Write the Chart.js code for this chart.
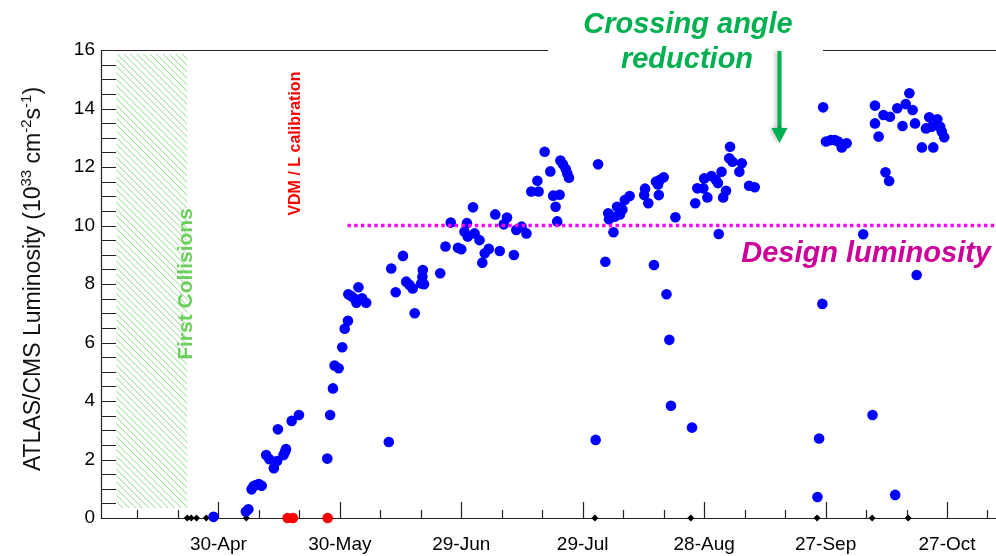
<!DOCTYPE html>
<html>
<head>
<meta charset="utf-8">
<script src="https://cdn.jsdelivr.net/npm/chart.js@4/dist/chart.umd.min.js"></script>
<style>
  html, body { margin: 0; padding: 0; background: #fff; overflow: hidden; }
  #wrap { width: 996px; height: 556px; position: relative; }
</style>
</head>
<body>
<div id="wrap"><canvas id="lumi" width="996" height="556"></canvas></div>
<script>
// Peak luminosity of each 2016 fill: day of year and value in 1e33 cm^-2 s^-1
const fillDay = [
  119.8,127.8,128.4,129.2,129.7,130.3,131.0,131.7,132.8,133.6,
  134.7,135.5,135.7,137.1,137.5,137.7,139.1,140.9,147.9,148.6,
  149.3,149.7,150.7,151.6,152.2,153.0,153.1,153.8,154.5,155.1,
  155.6,156.5,157.5,163.1,163.7,164.8,166.6,167.4,168.2,169.0,
  169.5,171.1,171.4,171.5,171.8,175.8,177.1,178.4,180.2,181.0,
  181.8,182.4,182.6,183.9,184.3,185.5,186.2,186.8,187.8,189.4,
  190.5,191.5,192.3,194.0,194.6,195.9,197.1,198.3,199.8,200.1,
  201.6,203.0,203.7,204.3,204.7,205.3,205.5,206.1,206.8,207.2,
  207.6,214.2,214.8,216.6,217.3,217.5,218.6,218.9,219.5,220.2,
  220.8,221.4,222.6,226.2,226.4,227.2,228.6,229.1,229.6,230.1,
  231.0,229.8,231.7,232.4,232.8,233.9,238.0,238.8,239.3,240.8,
  241.0,241.8,242.8,243.9,244.4,244.6,245.3,245.7,246.4,247.2,
  247.4,248.0,249.7,250.3,252.1,253.5,269.0,269.4,270.2,270.4,
  271.1,272.3,273.3,274.1,275.0,276.2,280.3,282.6,283.2,283.2,
  284.1,285.3,285.8,286.7,286.9,288.2,288.7,290.0,290.8,291.7,
  292.5,293.1,293.5,294.8,295.8,296.6,297.2,297.6,298.6,299.3,
  299.7,300.3
];
const fillPeak = [
  0.04,0.22,0.30,0.98,1.09,1.13,1.16,1.10,2.15,2.01,
  1.70,1.95,3.03,2.15,2.27,2.36,3.32,3.52,2.03,3.52,
  4.43,5.21,5.12,5.84,6.47,6.74,7.65,7.59,7.51,7.36,
  7.89,7.51,7.36,2.60,8.53,7.72,8.96,8.08,7.97,7.85,
  7.00,8.02,8.25,8.48,7.99,8.37,9.28,10.10,9.24,9.19,
  9.79,10.08,9.62,10.62,9.73,9.50,8.73,9.05,9.20,10.38,
  9.13,10.04,10.27,8.99,9.85,9.96,9.73,11.16,11.53,11.16,
  12.52,11.85,11.02,10.64,10.14,11.05,12.22,12.09,11.93,11.78,
  11.63,2.67,12.09,8.76,10.42,10.21,9.77,10.30,10.64,10.38,
  10.55,10.87,11.01,11.04,11.26,10.76,8.65,11.50,11.40,11.56,
  11.65,11.04,7.65,6.09,3.84,10.28,3.09,10.76,11.27,11.27,
  11.61,10.96,11.69,11.56,11.45,9.71,11.84,10.96,11.19,12.30,
  12.69,12.18,11.84,12.13,11.36,11.31,0.72,2.72,7.32,14.04,
  12.87,12.92,12.92,12.87,12.67,12.81,9.70,3.52,14.10,13.49,
  13.04,13.78,11.82,11.52,13.72,0.79,14.01,13.40,14.15,14.52,
  13.95,13.49,8.31,12.67,13.32,13.70,13.38,12.67,13.63,13.38,
  13.21,13.02
];
// Fills without stable-beam luminosity (drawn on the axis)
const zeroFillDay = [113.3,114.3,115.6,118.0,127.9,214.0,237.7,268.9,282.5,291.4];
// van der Meer calibration fills
const vdmFillDay = [138.1,139.4,148.0];

// Axis ticks (day of year 2016)
const dateTickDay = [121,151,181,211,241,271,301];
const dateTickLabel = ['30-Apr','30-May','29-Jun','29-Jul','28-Aug','27-Sep','27-Oct'];
const lumiTicks = [0,2,4,6,8,10,12,14,16];

const designLumi = 10;          // design luminosity level
const designFromDay = 152.9;    // where the design line starts
const firstCollisionSpan = [95.8, 113.3];  // hatched commissioning period

const X_MIN = 92, X_MAX = 313.1, Y_MIN = 0, Y_MAX = 16;
const FONT = '"Liberation Sans", Arial, Helvetica, sans-serif';

function hatch(ctx, x0, y0, x1, y1, step, color) {
  ctx.save();
  ctx.beginPath();
  ctx.rect(x0, y0, x1 - x0, y1 - y0);
  ctx.clip();
  ctx.strokeStyle = color;
  ctx.lineWidth = 0.9;
  const h = y1 - y0;
  ctx.beginPath();
  for (let t = x0 - h; t < x1 + step; t += step) {
    ctx.moveTo(t, y0);
    ctx.lineTo(t + h, y1);
  }
  ctx.stroke();
  ctx.restore();
}

const decorations = {
  id: 'decorations',
  beforeDatasetsDraw(chart) {
    const { ctx, chartArea: a, scales: { x, y } } = chart;
    ctx.save();

    // commissioning period hatch
    hatch(ctx, x.getPixelForValue(firstCollisionSpan[0]), y.getPixelForValue(15.86),
          x.getPixelForValue(firstCollisionSpan[1]), y.getPixelForValue(0.34), 6.5, '#7ad67a');

    // frame: left, bottom, top (top broken under the annotation box)
    ctx.strokeStyle = '#222';
    ctx.lineWidth = 1.2;
    ctx.beginPath();
    ctx.moveTo(a.left + 0.5, a.top);
    ctx.lineTo(a.left + 0.5, a.bottom + 0.5);
    ctx.lineTo(a.right, a.bottom + 0.5);
    ctx.moveTo(a.left, a.top + 0.5);
    ctx.lineTo(548, a.top + 0.5);
    ctx.moveTo(823, a.top + 0.5);
    ctx.lineTo(a.right, a.top + 0.5);
    ctx.stroke();

    // x ticks: major every 30 days, minor every 10 days, drawn inward
    ctx.beginPath();
    for (let d = dateTickDay[0] - 30; d <= X_MAX; d += 10) {
      if (d < X_MIN) continue;
      const px = Math.round(x.getPixelForValue(d)) + 0.5;
      const major = dateTickDay.includes(d);
      ctx.moveTo(px, a.bottom);
      ctx.lineTo(px, a.bottom - (major ? 16 : 8));
    }
    // y ticks every 0.5
    for (let v = Y_MIN; v <= Y_MAX + 1e-6; v += 0.5) {
      const py = Math.round(y.getPixelForValue(v)) + 0.5;
      ctx.moveTo(a.left, py);
      ctx.lineTo(a.left + 15, py);
    }
    ctx.stroke();

    // vertical labels
    ctx.textAlign = 'center';
    ctx.textBaseline = 'middle';
    ctx.save();
    ctx.translate(x.getPixelForValue(113.0), y.getPixelForValue(8.0));
    ctx.rotate(-Math.PI / 2);
    ctx.fillStyle = '#6ccf5c';
    ctx.font = 'bold 21px ' + FONT;
    ctx.fillText('First Collisions', 0, 0);
    ctx.restore();

    ctx.save();
    ctx.translate(x.getPixelForValue(140.0), y.getPixelForValue(12.8));
    ctx.rotate(-Math.PI / 2);
    ctx.fillStyle = '#ff0000';
    ctx.font = 'bold 16px ' + FONT;
    ctx.fillText('VDM / L calibration', 0, 0);
    ctx.restore();

    // y axis title with superscripts
    const parts = [
      ['ATLAS/CMS Luminosity (10', false], ['33', true], [' cm', false],
      ['-2', true], ['s', false], ['-1', true], [')', false]
    ];
    const big = '23px ' + FONT, small = '15px ' + FONT;
    let total = 0;
    for (const [t, sup] of parts) { ctx.font = sup ? small : big; total += ctx.measureText(t).width; }
    ctx.save();
    ctx.translate(40, 279);
    ctx.rotate(-Math.PI / 2);
    ctx.fillStyle = '#111';
    ctx.textAlign = 'left';
    ctx.textBaseline = 'alphabetic';
    let cx = -total / 2;
    for (const [t, sup] of parts) {
      ctx.font = sup ? small : big;
      ctx.fillText(t, cx, sup ? -9 : 0);
      cx += ctx.measureText(t).width;
    }
    ctx.restore();

    ctx.restore();
  },
  afterDatasetsDraw(chart) {
    const { ctx, chartArea: a, scales: { x, y } } = chart;
    ctx.save();

    // design luminosity level
    const yd = y.getPixelForValue(designLumi);
    ctx.strokeStyle = '#ff00ff';
    ctx.lineWidth = 3.5;
    ctx.setLineDash([3.4, 3.3]);
    ctx.beginPath();
    ctx.moveTo(x.getPixelForValue(designFromDay), yd);
    ctx.lineTo(a.right, yd);
    ctx.stroke();
    ctx.setLineDash([]);

    ctx.fillStyle = '#cc0099';
    ctx.font = 'italic bold 29px ' + FONT;
    ctx.textAlign = 'right';
    ctx.textBaseline = 'alphabetic';
    ctx.fillText('Design luminosity', 991, 262);

    // crossing angle annotation
    ctx.fillStyle = '#00b050';
    ctx.font = 'italic bold 29px ' + FONT;
    ctx.textAlign = 'center';
    ctx.fillText('Crossing angle', 688, 33);
    ctx.fillText('reduction', 687, 68);

    const ax = 779.5;
    ctx.save();
    ctx.shadowColor = 'rgba(0,0,0,0.25)';
    ctx.shadowBlur = 4;
    ctx.shadowOffsetX = -2;
    ctx.strokeStyle = '#00b050';
    ctx.lineWidth = 4;
    ctx.beginPath();
    ctx.moveTo(ax, 51);
    ctx.lineTo(ax, 130);
    ctx.stroke();
    ctx.beginPath();
    ctx.moveTo(ax - 8, 128);
    ctx.lineTo(ax + 8, 128);
    ctx.lineTo(ax, 143);
    ctx.closePath();
    ctx.fill();
    ctx.restore();

    ctx.restore();
  }
};

new Chart(document.getElementById('lumi'), {
  type: 'scatter',
  data: {
    datasets: [
      {
        label: 'Peak luminosity',
        data: fillDay.map((d, i) => ({ x: d, y: fillPeak[i] })),
        pointStyle: 'circle', pointRadius: 5.3, backgroundColor: '#0000ff',
        borderWidth: 0, clip: false
      },
      {
        label: 'No stable beams',
        data: zeroFillDay.map(d => ({ x: d, y: 0 })),
        pointStyle: 'rectRot', pointRadius: 3.5, backgroundColor: '#000',
        borderWidth: 0, clip: false
      },
      {
        label: 'VDM',
        data: vdmFillDay.map(d => ({ x: d, y: 0 })),
        pointStyle: 'circle', pointRadius: 5.3, backgroundColor: '#ff0000',
        borderWidth: 0, clip: false
      }
    ]
  },
  options: {
    responsive: false,
    animation: false,
    devicePixelRatio: 1,
    events: [],
    layout: { autoPadding: false, padding: { top: 50, right: 0, bottom: 0, left: 0 } },
    plugins: { legend: { display: false }, tooltip: { enabled: false }, title: { display: false } },
    scales: {
      x: {
        type: 'linear', min: X_MIN, max: X_MAX,
        grid: { display: false, drawTicks: false },
        border: { display: false },
        afterBuildTicks: s => { s.ticks = dateTickDay.map(v => ({ value: v })); },
        afterFit: s => { s.height = 38; s.paddingLeft = 0; s.paddingRight = 0; },
        ticks: {
          autoSkip: false, maxRotation: 0, minRotation: 0, padding: 15,
          color: '#000', font: { family: FONT, size: 19 },
          callback: v => { const i = dateTickDay.indexOf(v); return i >= 0 ? dateTickLabel[i] : ''; }
        }
      },
      y: {
        min: Y_MIN, max: Y_MAX,
        grid: { display: false, drawTicks: false },
        border: { display: false },
        afterBuildTicks: s => { s.ticks = lumiTicks.map(v => ({ value: v })); },
        afterFit: s => { s.width = 101; s.paddingTop = 0; s.paddingBottom = 0; },
        ticks: { padding: 6, color: '#000', font: { family: FONT, size: 19 } }
      }
    }
  },
  plugins: [decorations]
});
</script>
</body>
</html>
